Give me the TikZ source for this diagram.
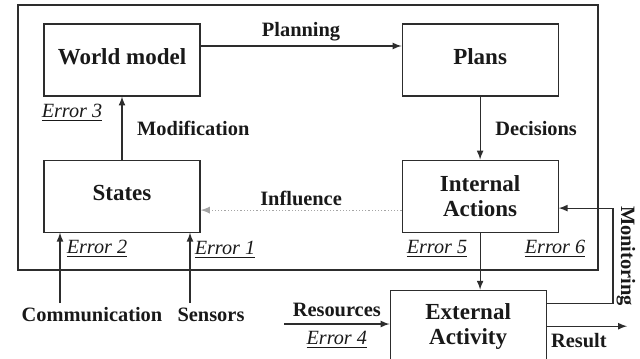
\documentclass[tikz,border=0pt]{standalone}
\usepackage{fontspec}
\setmainfont{Liberation Serif}
\definecolor{colline}{RGB}{45,45,45}
\definecolor{coldots}{RGB}{165,165,165}
\definecolor{coltext}{RGB}{25,25,25}
\usetikzlibrary{
	arrows,
	positioning
}
\tikzset{
	>=latex,
	flowedge/.style={->, colline, line width=0.55pt},
	blocknode/.style={draw=colline, line width=0.55pt, minimum width=78pt, minimum height=36pt, align=center, text=coltext, font=\fontsize{11.5}{12.5}\selectfont\bfseries},
	onelinenode/.style={blocknode, text depth=3.5pt},
	flowlabel/.style={text=coltext, font=\fontsize{10.2}{12}\selectfont\bfseries},
	errlabel/.style={text=coltext, font=\fontsize{10.1}{12}\selectfont\itshape}
}
\newcommand{\errtext}[1]{\underline{#1}}

\begin{document}
\begin{tikzpicture}[x=0.5pt, y=-0.5pt]
	\useasboundingbox (0,0) rectangle (640,358);
	\draw[colline, line width=0.55pt] (18,5) rectangle (598,270);

	\node[onelinenode] (wm) at (122,60) {World model};
	\node[onelinenode] (pl) [right=100.5pt of wm] {Plans};
	\node[onelinenode] (st) [below=31.5pt of wm] {States};
	\node[blocknode] (ia) [right=100.5pt of st] {Internal\\Actions};
	\node[blocknode] (ea) [below=28.5pt of ia, xshift=-6pt] {External\\Activity};

	\coordinate (com) at (60,303);
	\coordinate (sen) at (190,303);
	\coordinate (res) at (284,324);
	\coordinate (out) at (627,324);
	\coordinate (mon) at (613,250);

	\draw[flowedge] ([yshift=7pt]wm.east) -- node[flowlabel, above=-1pt] {Planning} ([yshift=7pt]pl.west);
	\draw[flowedge] (pl) -- node[flowlabel, right=4pt] {Decisions} (ia);
	\draw[flowedge] (st) -- node[flowlabel, right=4pt] {Modification} (wm);
	\draw[->, coldots, densely dotted, line width=0.6pt] ([yshift=-7pt]ia.west) -- node[flowlabel, above=-1.3pt] {Influence} ([yshift=-7pt]st.east);
	\draw[flowedge] (ia.south) -- (ia.south |- ea.north);
	\draw[flowedge] (com) -- (com |- st.south);
	\draw[flowedge] (sen) -- (sen |- st.south);
	\draw[flowedge] (res) -- node[flowlabel, above] {Resources} node[errlabel, below] {\errtext{Error 4}} (res -| ea.west);
	\draw[flowedge] (ea.east) -- node[flowlabel, below, pos=0.4] {Result} (ea.east -| out);
	\draw[flowedge] ([yshift=11.5pt]ea.east) -| (mon) |- ([yshift=-6pt]ia.east);

	\node[flowlabel] (comlabel) at (92,315) {Communication};
	\node[flowlabel] (senlabel) at (211,315) {Sensors};
	\node[flowlabel, rotate=-90] (monlabel) at (626,256) {Monitoring};

	\node[errlabel] (e3) at (72,113) {\errtext{Error 3}};
	\node[errlabel] (e2) at (97,249) {\errtext{Error 2}};
	\node[errlabel] (e1) at (225,250) {\errtext{Error 1}};
	\node[errlabel] (e5) at (437,249) {\errtext{Error 5}};
	\node[errlabel] (e6) at (555,249) {\errtext{Error 6}};
\end{tikzpicture}
\end{document}
